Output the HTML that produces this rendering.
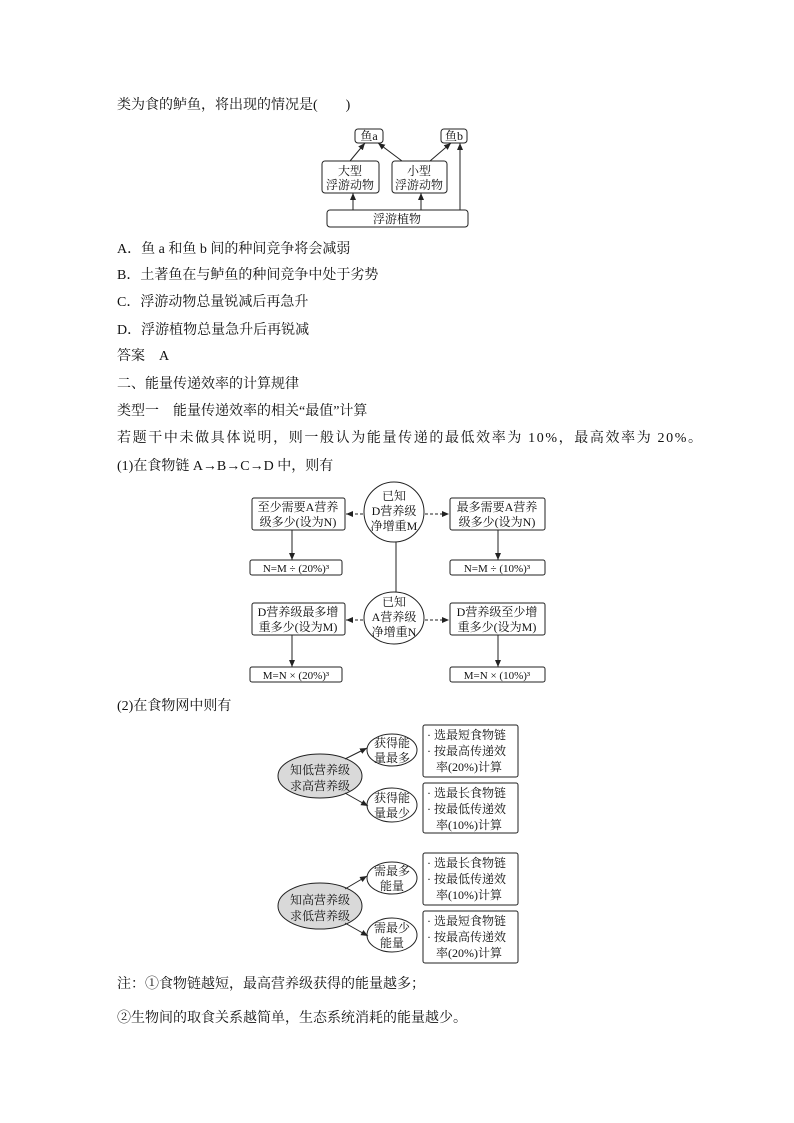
<!DOCTYPE html>
<html><head><meta charset="utf-8"><style>
body{margin:0;background:#fff}
svg{display:block}
text{font-family:"Liberation Serif","Noto Serif CJK SC","Noto Sans CJK SC",serif;fill:#111}
.t{font-size:14px;font-family:"Liberation Sans","Noto Sans CJK SC",sans-serif}
.d{font-size:12px}
</style></head><body>
<svg width="794" height="1123" viewBox="0 0 794 1123" xmlns="http://www.w3.org/2000/svg">
<defs><marker id="a" markerWidth="8" markerHeight="8" refX="7" refY="4" orient="auto" markerUnits="userSpaceOnUse"><path d="M0,1 L7,4 L0,7 Z" fill="#222"/></marker></defs>
<g class="t">
<text x="117" y="109">类为食的鲈鱼，将出现的情况是(　　)</text>
<text x="117" y="253">A．鱼 a 和鱼 b 间的种间竞争将会减弱</text>
<text x="117" y="279">B．土著鱼在与鲈鱼的种间竞争中处于劣势</text>
<text x="117" y="306">C．浮游动物总量锐减后再急升</text>
<text x="117" y="334">D．浮游植物总量急升后再锐减</text>
<text x="117" y="360">答案　A</text>
<text x="117" y="388">二、能量传递效率的计算规律</text>
<text x="117" y="415">类型一　能量传递效率的相关“最值”计算</text>
<text x="117" y="442" textLength="585" lengthAdjust="spacing">若题干中未做具体说明，则一般认为能量传递的最低效率为 10%，最高效率为 20%。</text>
<text x="117" y="470">(1)在食物链 A→B→C→D 中，则有</text>
<text x="117" y="710">(2)在食物网中则有</text>
<text x="117" y="988">注：①食物链越短，最高营养级获得的能量越多；</text>
<text x="117" y="1022">②生物间的取食关系越简单，生态系统消耗的能量越少。</text>
</g>
<g fill="none" stroke="#222" stroke-width="1">
<rect x="355" y="129" width="28" height="14" rx="3"/>
<rect x="441" y="129" width="26" height="14" rx="3"/>
<rect x="322" y="161" width="57" height="32" rx="3"/>
<rect x="392" y="161" width="55" height="32" rx="3"/>
<rect x="327" y="210" width="141" height="17" rx="3"/>
<g marker-end="url(#a)">
<line x1="350" y1="161" x2="365" y2="143"/><line x1="402" y1="161" x2="378" y2="143"/>
<line x1="430" y1="161" x2="451" y2="143"/><line x1="353" y1="210" x2="353" y2="193"/>
<line x1="421" y1="210" x2="421" y2="193"/><line x1="460" y1="210" x2="460" y2="143"/>
</g>
</g>
<g class="d" text-anchor="middle">
<text x="369" y="140">鱼a</text><text x="454" y="140">鱼b</text>
<text x="350" y="175">大型</text><text x="350" y="189">浮游动物</text>
<text x="419" y="175">小型</text><text x="419" y="189">浮游动物</text>
<text x="397" y="223">浮游植物</text>
</g>
<g fill="none" stroke="#222" stroke-width="1">
<rect x="252" y="498" width="93" height="32" rx="2"/><rect x="450" y="498" width="95" height="32" rx="2"/>
<rect x="250" y="560" width="92" height="15" rx="2"/><rect x="450" y="560" width="95" height="15" rx="2"/>
<rect x="252" y="603" width="93" height="32" rx="2"/><rect x="450" y="603" width="95" height="32" rx="2"/>
<rect x="250" y="667" width="92" height="15" rx="2"/><rect x="450" y="667" width="95" height="15" rx="2"/>
<ellipse cx="394" cy="512" rx="30" ry="30"/><ellipse cx="394" cy="618" rx="30" ry="26"/>
<line x1="396" y1="542" x2="396" y2="592"/>
<g marker-end="url(#a)">
<line x1="292" y1="530" x2="292" y2="560"/><line x1="498" y1="530" x2="498" y2="560"/>
<line x1="292" y1="635" x2="292" y2="667"/><line x1="498" y1="635" x2="498" y2="667"/>
<line x1="363" y1="514" x2="346" y2="514" stroke-dasharray="3,2"/><line x1="425" y1="514" x2="449" y2="514" stroke-dasharray="3,2"/>
<line x1="363" y1="620" x2="346" y2="620" stroke-dasharray="3,2"/><line x1="425" y1="620" x2="449" y2="620" stroke-dasharray="3,2"/>
</g>
</g>
<g class="d" text-anchor="middle">
<text x="298" y="511">至少需要A营养</text><text x="298" y="526">级多少(设为N)</text>
<text x="497" y="511">最多需要A营养</text><text x="497" y="526">级多少(设为N)</text>
<text x="394" y="500">已知</text><text x="394" y="515">D营养级</text><text x="394" y="530">净增重M</text>
<text x="394" y="606">已知</text><text x="394" y="621">A营养级</text><text x="394" y="636">净增重N</text>
<text x="298" y="616">D营养级最多增</text><text x="298" y="631">重多少(设为M)</text>
<text x="497" y="616">D营养级至少增</text><text x="497" y="631">重多少(设为M)</text>
<text x="296" y="572" font-size="11">N=M ÷ (20%)³</text><text x="497" y="572" font-size="11">N=M ÷ (10%)³</text>
<text x="296" y="679" font-size="11">M=N × (20%)³</text><text x="497" y="679" font-size="11">M=N × (10%)³</text>
</g>
<g stroke="#222" stroke-width="1">
<ellipse cx="320" cy="776" rx="42" ry="22" fill="#d9d9d9"/>
<ellipse cx="320" cy="906" rx="42" ry="23" fill="#d9d9d9"/>
<g fill="none">
<ellipse cx="392" cy="750" rx="25" ry="16"/><ellipse cx="392" cy="805" rx="25" ry="17"/>
<ellipse cx="392" cy="878" rx="25" ry="16"/><ellipse cx="392" cy="935" rx="25" ry="17"/>
<rect x="423" y="725" width="95" height="52" rx="2"/><rect x="423" y="783" width="95" height="50" rx="2"/>
<rect x="423" y="853" width="95" height="52" rx="2"/><rect x="423" y="911" width="95" height="52" rx="2"/>
<g marker-end="url(#a)">
<line x1="345" y1="759" x2="367" y2="748"/><line x1="345" y1="793" x2="368" y2="806"/>
<line x1="345" y1="889" x2="367" y2="876"/><line x1="345" y1="923" x2="368" y2="936"/>
</g></g></g>
<g class="d">
<g text-anchor="middle">
<text x="320" y="774">知低营养级</text><text x="320" y="790">求高营养级</text>
<text x="320" y="904">知高营养级</text><text x="320" y="920">求低营养级</text>
<text x="392" y="747">获得能</text><text x="392" y="762">量最多</text>
<text x="392" y="802">获得能</text><text x="392" y="817">量最少</text>
<text x="392" y="875">需最多</text><text x="392" y="890">能量</text>
<text x="392" y="932">需最少</text><text x="392" y="947">能量</text>
</g>
<text x="427" y="739">· 选最短食物链</text><text x="427" y="755">· 按最高传递效</text><text x="436" y="771">率(20%)计算</text>
<text x="427" y="797">· 选最长食物链</text><text x="427" y="813">· 按最低传递效</text><text x="436" y="829">率(10%)计算</text>
<text x="427" y="867">· 选最长食物链</text><text x="427" y="883">· 按最低传递效</text><text x="436" y="899">率(10%)计算</text>
<text x="427" y="925">· 选最短食物链</text><text x="427" y="941">· 按最高传递效</text><text x="436" y="957">率(20%)计算</text>
</g>
</svg>
</body></html>
